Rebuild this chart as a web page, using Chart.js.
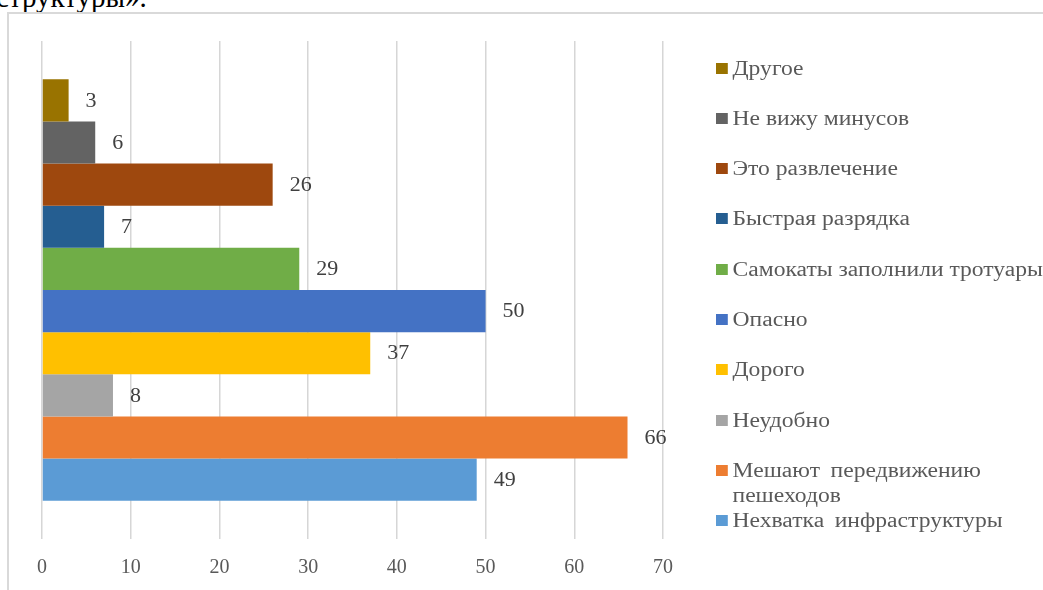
<!DOCTYPE html>
<html>
<head>
<meta charset="utf-8">
<script src="https://cdn.jsdelivr.net/npm/chart.js@4.4.0/dist/chart.umd.min.js"></script>
<style>
  html, body { margin: 0; padding: 0; background: #fff; }
  #wrap { position: relative; width: 1043px; height: 590px; overflow: hidden; background: #fff; }
  #doctext { position: absolute; left: -4px; top: -19px; font: 29px "Liberation Serif", serif; color: #000; white-space: nowrap; }
  #frame { position: absolute; left: 7px; top: 12px; width: 1100px; height: 700px; border-top: 2px solid #d9d9d9; border-left: 2px solid #d9d9d9; box-sizing: border-box; }
  #chart { position: absolute; left: 0; top: 0; }
  #legend { position: absolute; left: 0; top: 0; width: 1043px; height: 590px; pointer-events: none; }
  .li { position: absolute; left: 716px; font: 20px "Liberation Serif", serif; color: #595959; line-height: 25px; max-width: 285px; transform: scaleX(1.18); transform-origin: 0 0; }
  .sw { position: absolute; left: 0; top: 7px; width: 10px; height: 11px; }
  .tx { margin-left: 14px; display: block; }
</style>
</head>
<body>
<div id="wrap">
  <div id="doctext">структуры».</div>
  <div id="frame"></div>
  <canvas id="chart" width="1043" height="590"></canvas>
  <div id="legend"></div>
</div>
<script>
const categories = [''];
const seriesNames = [
  'Другое',
  'Не вижу минусов',
  'Это развлечение',
  'Быстрая разрядка',
  'Самокаты заполнили тротуары',
  'Опасно',
  'Дорого',
  'Неудобно',
  'Мешают передвижению пешеходов',
  'Нехватка инфраструктуры'
];
const seriesValues = [3, 6, 26, 7, 29, 50, 37, 8, 66, 49];
const seriesColors = ['#997300', '#636363', '#9E480E', '#255E91', '#70AD47', '#4472C4', '#FFC000', '#A5A5A5', '#ED7D31', '#5B9BD5'];
const xTicks = [0, 10, 20, 30, 40, 50, 60, 70];

const datasets = seriesNames.map((name, i) => ({
  label: name,
  data: [seriesValues[i]],
  backgroundColor: seriesColors[i],
  borderWidth: 0,
  barPercentage: 1.0,
  categoryPercentage: 0.846
}));

const valueLabels = {
  id: 'valueLabels',
  afterDatasetsDraw(chart) {
    const ctx = chart.ctx;
    chart.data.datasets.forEach((ds, i) => {
      const meta = chart.getDatasetMeta(i);
      meta.data.forEach((el, j) => {
        ctx.save();
        ctx.font = '20px "Liberation Serif", serif';
        ctx.fillStyle = '#404040';
        ctx.textAlign = 'left';
        ctx.textBaseline = 'middle';
        ctx.translate(el.x + 17, el.y + 1);
        ctx.scale(1.1, 1);
        ctx.fillText(String(ds.data[j]), 0, 0);
        ctx.restore();
      });
    });
  }
};

new Chart(document.getElementById('chart'), {
  type: 'bar',
  data: { labels: categories, datasets },
  options: {
    indexAxis: 'y',
    responsive: false,
    animation: false,
    devicePixelRatio: 1,
    layout: { padding: { left: 42, right: 380, top: 41, bottom: -7 } },
    plugins: { legend: { display: false }, tooltip: { enabled: false } },
    scales: {
      x: {
        min: xTicks[0],
        max: xTicks[xTicks.length - 1],
        afterBuildTicks(scale) { scale.ticks = xTicks.map(v => ({ value: v })); },
        grid: { color: '#d6d6d6', lineWidth: 1.5, drawTicks: false },
        border: { display: false },
        ticks: {
          padding: 17,
          color: '#595959',
          font: { family: '"Liberation Serif", serif', size: 20 }
        }
      },
      y: { display: false }
    }
  },
  plugins: [valueLabels]
});

const legend = document.getElementById('legend');
seriesNames.forEach((name, i) => {
  const item = document.createElement('div');
  item.className = 'li';
  item.style.top = (68 + 50.3 * i - 12.5) + 'px';
  if (i >= 8) item.style.wordSpacing = '4px';
  if (i === 9) item.style.top = (520 - 12.5) + 'px';
  const sw = document.createElement('span');
  sw.className = 'sw';
  sw.style.background = seriesColors[i];
  const tx = document.createElement('span');
  tx.className = 'tx';
  tx.textContent = name;
  item.appendChild(sw);
  item.appendChild(tx);
  legend.appendChild(item);
});
</script>
</body>
</html>
